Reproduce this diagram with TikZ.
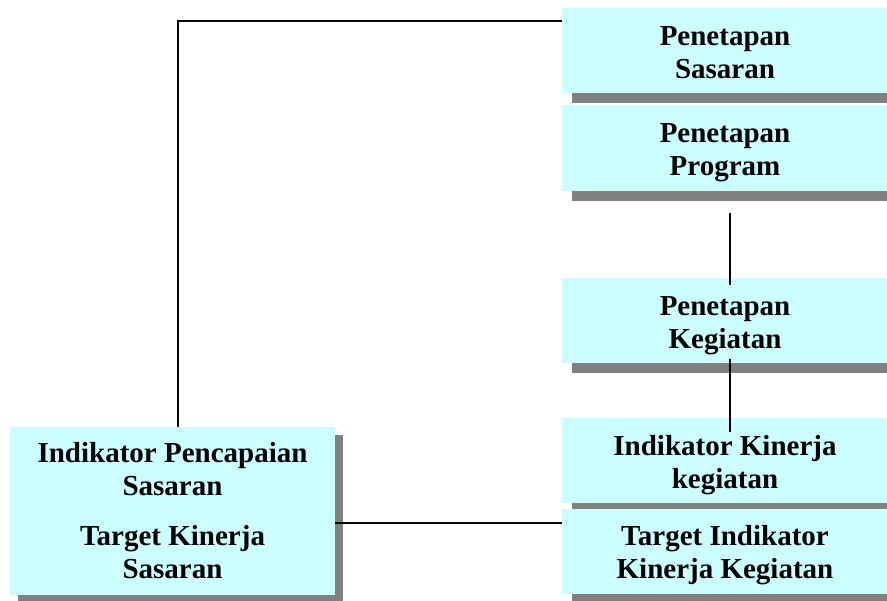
\documentclass[tikz,border=0pt]{standalone}
\usepackage{fontspec}
\setmainfont{Liberation Serif}
\usetikzlibrary{shadows}
\definecolor{boxfill}{RGB}{204,255,255}
\definecolor{shadowgray}{RGB}{128,128,128}
\tikzset{
  cbox/.style={rectangle, fill=boxfill, draw=none, inner sep=0pt,
    drop shadow={shadow xshift=10pt, shadow yshift=-10pt, fill=shadowgray, opacity=1}},
  lbox/.style={rectangle, fill=boxfill, draw=none, inner sep=0pt,
    drop shadow={shadow xshift=8pt, shadow yshift=-8pt, fill=shadowgray, opacity=1}},
  btext/.style={align=center, inner sep=0pt, font=\bfseries\fontsize{29}{33}\selectfont},
  conn/.style={draw=black, line width=2pt}
}
\newcommand{\fr}{\vphantom{Ig}}
\begin{document}
\begin{tikzpicture}[x=1pt,y=-1pt]
\useasboundingbox (0,0) rectangle (887,601);
\clip (0,0) rectangle (887,601);
% right column boxes
\node[cbox, minimum width=326pt, minimum height=85pt] (ps) at (725,50.5) {};
\node[btext] (pst) at ([yshift=-5pt]ps.center) {\fr Penetapan\\Sasaran\fr};
\node[cbox, minimum width=326pt, minimum height=86pt] (pp) at (725,148) {};
\node[btext] (ppt) at ([yshift=-5pt]pp.center) {\fr Penetapan\\Program\fr};
\node[cbox, minimum width=326pt, minimum height=85pt] (pk) at (725,320.5) {};
\node[btext] (pkt) at ([yshift=-5pt]pk.center) {\fr Penetapan\\Kegiatan\fr};
\node[cbox, minimum width=326pt, minimum height=85pt] (ik) at (725,460.5) {};
\node[btext] (ikt) at ([yshift=-5pt]ik.center) {\fr Indikator Kinerja\\kegiatan\fr};
\node[cbox, minimum width=326pt, minimum height=85pt] (tik) at (725,551.5) {};
\node[btext] (tikt) at ([yshift=-4pt]tik.center) {\fr Target Indikator\\Kinerja Kegiatan\fr};
% left boxes
\node[lbox, minimum width=325pt, minimum height=83pt] (ips) at (172.5,468.5) {};
\node[btext] (ipst) at ([yshift=-4pt]ips.center) {\fr Indikator Pencapaian\\Sasaran\fr};
\node[lbox, minimum width=325pt, minimum height=85pt] (tks) at (172.5,552.5) {};
\node[btext] (tkst) at ([yshift=-3pt]tks.center) {\fr Target Kinerja\\Sasaran\fr};
% connectors
\coordinate (c1) at (178,21);
\draw[conn] (ips.north -| c1) |- (ps.west |- c1);
\coordinate (v1) at (730,213);
\coordinate (v2) at (730,285);
\draw[conn] (v1) -- (v2);
\coordinate (v3) at (730,359);
\coordinate (v4) at (730,432);
\draw[conn] (v3) -- (v4);
\coordinate (h1) at (400,523);
\draw[conn] (tks.east |- h1) -- (tik.west |- h1);
\end{tikzpicture}
\end{document}
